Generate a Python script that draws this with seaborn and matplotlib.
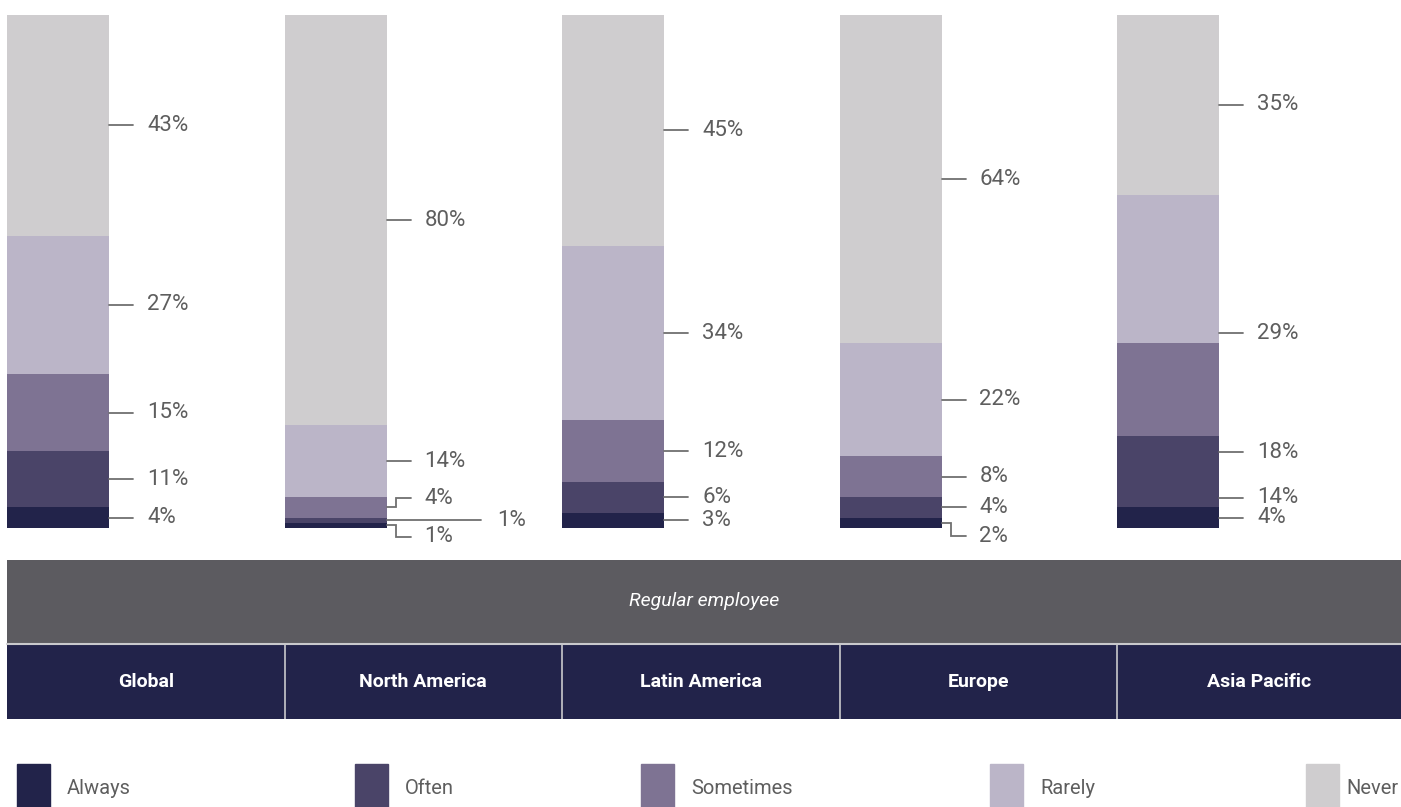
import numpy as np
import pandas as pd
import matplotlib.pyplot as plt
import seaborn as sns
from matplotlib.patches import Rectangle

# ## Data

regions = ['Global', 'North America', 'Latin America', 'Europe', 'Asia Pacific']
answers = ['Always', 'Often', 'Sometimes', 'Rarely', 'Never']
always = [4, 1, 3, 2, 4]
often = [11, 1, 6, 4, 14]
sometimes = [15, 4, 12, 8, 18]
rarely = [27, 14, 34, 22, 29]
never = [43, 80, 45, 64, 35]
band_title = 'Regular employee'

colors = ['#22234a', '#4a4468', '#7e7393', '#bbb5c8', '#cfcdcf']
navy = '#22234a'
band_gray = '#5c5b60'
label_gray = '#5e5e5e'
line_gray = '#707070'

# long table + cumulative tops for the stacked bars
rows = []
for ans, vals in zip(answers, [always, often, sometimes, rarely, never]):
    for reg, v in zip(regions, vals):
        rows.append({'region': reg, 'answer': ans, 'value': v})
df = pd.DataFrame(rows)
df['answer'] = pd.Categorical(df['answer'], answers, ordered=True)
df = df.sort_values(['region', 'answer'])
df['top'] = df.groupby('region')['value'].cumsum()
df['bottom'] = df['top'] - df['value']

# ## Layout

W, H = 1401, 807
PX = 277.5   # pixels per category step
BAR_W = 102 / PX
X0 = -58 / PX
X1 = (W - 58) / PX

sns.set_theme(style='white')
plt.rcParams['font.family'] = ['Roboto', 'DejaVu Sans']

fig = plt.figure(figsize=(W / 100, H / 100), dpi=100)
ax = fig.add_axes([0, (H - 528) / H, 1, 513 / H])

# stacked bars: draw the tallest cumulative first, then overlay
for ans, col in reversed(list(zip(answers, colors))):
    sub = df[df['answer'] == ans]
    sns.barplot(data=sub, x='region', y='top', order=regions, color=col,
                width=BAR_W, saturation=1, errorbar=None, linewidth=0, ax=ax)

ax.set_xlim(X0, X1)
ax.set_ylim(0, 100)
ax.axis('off')

# label tweaks: elbow connectors, long connector, shifted labels
special = {
    ('North America', 'Sometimes'): ('elbow', 1.8),
    ('North America', 'Often'): ('long', 94),
    ('North America', 'Always'): ('elbow', -2.2),
    ('Europe', 'Always'): ('elbow', -2.6),
    ('Asia Pacific', 'Rarely'): ('shift', -12.5),
    ('Asia Pacific', 'Sometimes'): ('shift', -12.2),
    ('Asia Pacific', 'Often'): ('shift', -5.1),
}

for _, r in df.iterrows():
    i = regions.index(r['region'])
    xe = i + BAR_W / 2
    ymid = r['bottom'] + r['value'] / 2
    kind, arg = special.get((r['region'], r['answer']), ('plain', 0))
    line_len, text_off = 24, 38
    if kind == 'elbow':
        ylab = ymid + arg
        xs = [xe, xe + 9 / PX, xe + 9 / PX, xe + line_len / PX]
        ys = [ymid, ymid, ylab, ylab]
    else:
        ylab = ymid + (arg if kind == 'shift' else 0)
        if kind == 'long':
            line_len, text_off = arg, arg + 17
        xs = [xe, xe + line_len / PX]
        ys = [ylab, ylab]
    ax.plot(xs, ys, color=line_gray, lw=1.3, clip_on=False,
            solid_joinstyle='miter')
    ax.text(xe + text_off / PX, ylab, f"{r['value']}%", color=label_gray,
            fontsize=16, va='center', ha='left', clip_on=False)

# ## Header bands

bax = fig.add_axes([0, (H - 719) / H, 1, 159 / H])
bax.set_xlim(X0, X1)
bax.set_ylim(0, 159)
bax.axis('off')
left = -BAR_W / 2
bax.add_patch(Rectangle((left, 76), X1 - left, 83, color=band_gray, lw=0))
bax.add_patch(Rectangle((left, 0), X1 - left, 75, color=navy, lw=0))
bax.axhline(75.5, xmin=(left - X0) / (X1 - X0), color='#c9c9cc', lw=1.5)
bax.text((left + X1) / 2, 118, band_title, color='white', fontsize=14,
         style='italic', ha='center', va='center')
for i, reg in enumerate(regions):
    if i > 0:
        bax.plot([i - BAR_W / 2] * 2, [0, 75], color='#c9c9cc', lw=1.2)
    right = i + 1 - BAR_W / 2 if i < len(regions) - 1 else X1
    bax.text((i - BAR_W / 2 + right) / 2, 37, reg, color='white',
             fontsize=14, fontweight='bold', ha='center', va='center')

# ## Legend

leg_x = [17, 355, 641, 990, 1306]
for k, (x, ans, col) in enumerate(zip(leg_x, answers, colors)):
    fig.patches.append(Rectangle((x / W, 0), 33 / W, 43 / H, color=col,
                                 transform=fig.transFigure, figure=fig))
    if k == len(answers) - 1:
        # last item sits against the right edge
        fig.text(1398 / W, 1 - 789 / H, ans, color=label_gray, fontsize=14.5,
                 ha='right', va='center')
    else:
        fig.text((x + 50) / W, 1 - 789 / H, ans, color=label_gray,
                 fontsize=14.5, ha='left', va='center')

fig.savefig('out.png', dpi=100, facecolor='white')
